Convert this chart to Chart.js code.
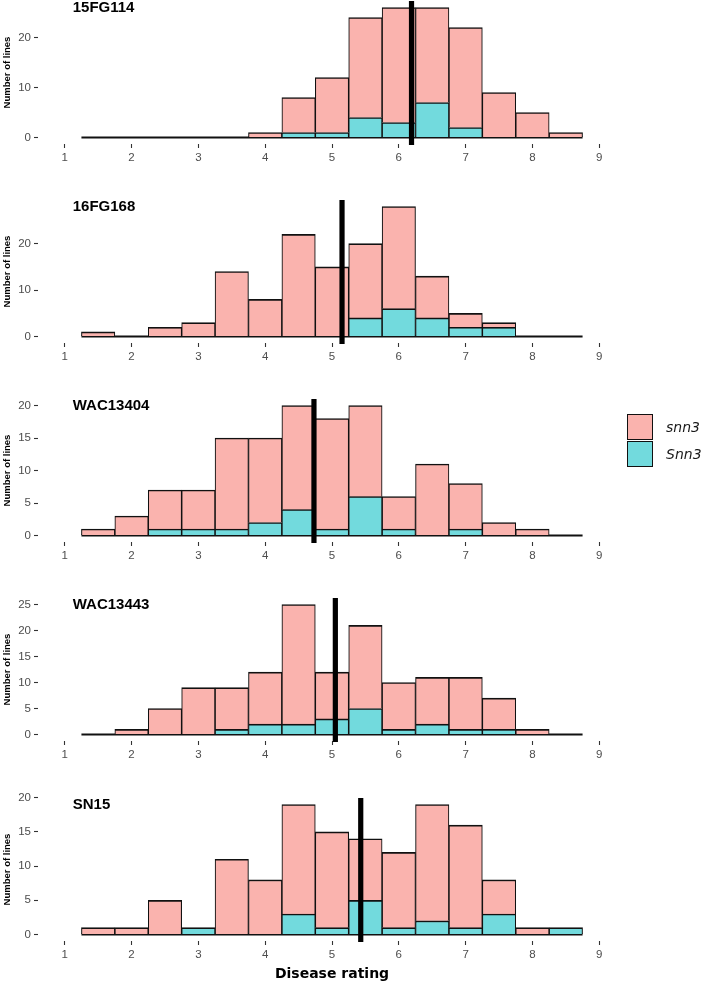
<!DOCTYPE html>
<html>
<head>
<meta charset="utf-8">
<script src="https://cdn.jsdelivr.net/npm/chart.js@4.4.1/dist/chart.umd.min.js"></script>
<style>
body { margin: 0; background: #fff; }
#wrap { position: relative; width: 708px; height: 985px; overflow: hidden; }
#wrap canvas { position: absolute; left: 0; }
#legend { position: absolute; left: 627px; top: 414px; font-family: "DejaVu Sans", sans-serif; font-style: italic; font-size: 14px; color: #1a1a1a; }
#legend .row { height: 26px; display: flex; align-items: center; margin-bottom: 1px; }
#legend .key { width: 24px; height: 24px; border: 1.3px solid #111; margin-right: 13px; }
</style>
</head>
<body>
<div id="wrap"><div id="legend"></div></div>
<script>
// bin centres (bin width 0.5) and axis ticks
var bins = [1.5, 2, 2.5, 3, 3.5, 4, 4.5, 5, 5.5, 6, 6.5, 7, 7.5, 8, 8.5];
var binWidth = 0.5;
var xTicks = [1, 2, 3, 4, 5, 6, 7, 8, 9];

var panelNames = ["15FG114", "16FG168", "WAC13404", "WAC13443", "SN15"];
var meanRating = [6.19, 5.15, 4.73, 5.05, 5.43];

var yTicks15FG114 = [0, 10, 20];
var yTicks16FG168 = [0, 10, 20];
var yTicksWAC13404 = [0, 5, 10, 15, 20];
var yTicksWAC13443 = [0, 5, 10, 15, 20, 25];
var yTicksSN15 = [0, 5, 10, 15, 20];

// counts per bin: snn3 (pink) and Snn3 (teal)
var snn3_15FG114 = [0, 0, 0, 0, 0, 1, 7, 11, 20, 23, 19, 20, 9, 5, 1];
var Snn3_15FG114 = [0, 0, 0, 0, 0, 0, 1, 1, 4, 3, 7, 2, 0, 0, 0];
var snn3_16FG168 = [1, 0, 2, 3, 14, 8, 22, 15, 16, 22, 9, 3, 1, 0, 0];
var Snn3_16FG168 = [0, 0, 0, 0, 0, 0, 0, 0, 4, 6, 4, 2, 2, 0, 0];
var snn3_WAC13404 = [1, 3, 6, 6, 14, 13, 16, 17, 14, 5, 11, 7, 2, 1, 0];
var Snn3_WAC13404 = [0, 0, 1, 1, 1, 2, 4, 1, 6, 1, 0, 1, 0, 0, 0];
var snn3_WAC13443 = [0, 1, 5, 9, 8, 10, 23, 9, 16, 9, 9, 10, 6, 1, 0];
var Snn3_WAC13443 = [0, 0, 0, 0, 1, 2, 2, 3, 5, 1, 2, 1, 1, 0, 0];
var snn3_SN15 = [1, 1, 5, 0, 11, 8, 16, 14, 9, 11, 17, 15, 5, 1, 0];
var Snn3_SN15 = [0, 0, 0, 1, 0, 0, 3, 1, 5, 1, 2, 1, 3, 0, 1];

var legendLabels = ["snn3", "Snn3"];
var legendColors = ["#FAB3AE", "#72DADD"];

var panelSnn3low = [snn3_15FG114, snn3_16FG168, snn3_WAC13404, snn3_WAC13443, snn3_SN15];
var panelSnn3 = [Snn3_15FG114, Snn3_16FG168, Snn3_WAC13404, Snn3_WAC13443, Snn3_SN15];
var panelYTicks = [yTicks15FG114, yTicks16FG168, yTicksWAC13404, yTicksWAC13443, yTicksSN15];

var tickFont = { family: "Liberation Sans", size: 11.5 };

// thick vertical line at the mean rating
var meanLinePlugin = {
    id: "meanLine",
    afterDatasetsDraw: function(chart, args, opts) {
        var ctx = chart.ctx;
        var a = chart.chartArea;
        var x = chart.scales.x.getPixelForValue(opts.value);
        ctx.save();
        ctx.fillStyle = "#000";
        ctx.fillRect(x - 2.6, a.top, 5.2, a.bottom - a.top + 1);
        ctx.restore();
    }
};

// isolate name written inside the panel
var panelTitlePlugin = {
    id: "panelTitle",
    afterDraw: function(chart, args, opts) {
        var ctx = chart.ctx;
        ctx.save();
        ctx.font = "bold 15px 'Liberation Sans'";
        ctx.fillStyle = "#000";
        ctx.textAlign = "left";
        ctx.textBaseline = "middle";
        ctx.fillText(opts.text, chart.scales.x.getPixelForValue(opts.x), chart.scales.y.getPixelForValue(opts.y));
        ctx.restore();
    }
};

function toPoints(values){
    return bins.map(function(b, i){
        return { x: b, y: values[i] == 0 ? null : values[i] };
    });
}

var wrap = document.getElementById("wrap");
var canvasTops = [1, 200, 399, 598, 798];
var plotHeight = 143;
var headroom = 10;

function drawPanel(k){
    var isLast = (k == panelNames.length - 1);
    var h = (isLast ? 985 - canvasTops[k] : 199) + headroom;
    var cv = document.createElement("canvas");
    cv.width = 708;
    cv.height = h;
    cv.style.top = (canvasTops[k] - headroom) + "px";
    wrap.insertBefore(cv, document.getElementById("legend"));

    var low = panelSnn3low[k], high = panelSnn3[k];
    var totals = low.map(function(v, i){ return v + high[i]; });
    var maxCount = Math.max.apply(null, totals);
    var yT = panelYTicks[k];
    var axisH = h - headroom - plotHeight;

    var barBorder = { top: 1.7, left: 1.1, right: 1.1, bottom: 0 };

    new Chart(cv, {
        data: {
            datasets: [
                {
                    type: "bar",
                    label: legendLabels[1],
                    data: toPoints(high),
                    backgroundColor: legendColors[1],
                    borderColor: "#111",
                    borderWidth: barBorder,
                    borderSkipped: false,
                    barPercentage: 1,
                    categoryPercentage: 1,
                    stack: "g"
                },
                {
                    type: "bar",
                    label: legendLabels[0],
                    data: toPoints(low),
                    backgroundColor: legendColors[0],
                    borderColor: "#111",
                    borderWidth: barBorder,
                    borderSkipped: false,
                    barPercentage: 1,
                    categoryPercentage: 1,
                    stack: "g"
                },
                {
                    type: "line",
                    label: "base",
                    data: [{ x: bins[0] - binWidth / 2, y: 0 }, { x: bins[bins.length - 1] + binWidth / 2, y: 0 }],
                    borderColor: "#111",
                    borderWidth: 1.8,
                    pointRadius: 0,
                    stack: "base"
                }
            ]
        },
        options: {
            responsive: false,
            animation: false,
            devicePixelRatio: 1,
            layout: { padding: { left: 0, right: 82, top: headroom, bottom: 0 } },
            plugins: {
                legend: { display: false },
                tooltip: { enabled: false },
                meanLine: { value: meanRating[k] },
                panelTitle: { text: panelNames[k], x: 1.12, y: maxCount }
            },
            scales: {
                x: {
                    type: "linear",
                    bounds: "data",
                    min: 0.6,
                    max: 9.4,
                    stacked: true,
                    offset: false,
                    border: { display: false },
                    grid: { drawOnChartArea: false, offset: false, tickLength: 4, tickColor: "#333", tickWidth: 1.1 },
                    ticks: { font: tickFont, color: "#4d4d4d", padding: 3, maxRotation: 0, autoSkip: false },
                    afterBuildTicks: function(s){ s.ticks = xTicks.map(function(v){ return { value: v }; }); },
                    afterFit: function(s){ s.height = axisH; s.paddingLeft = 0; s.paddingRight = 0; },
                    title: {
                        display: isLast,
                        text: "Disease rating",
                        color: "#000",
                        font: { family: "DejaVu Sans", weight: "bold", size: 14 },
                        padding: { top: 0, bottom: 2 }
                    }
                },
                y: {
                    stacked: true,
                    bounds: "data",
                    min: -0.05 * maxCount,
                    max: 1.05 * maxCount,
                    border: { display: false },
                    grid: { drawOnChartArea: false, tickLength: 4, tickColor: "#333", tickWidth: 1.1 },
                    ticks: { font: tickFont, color: "#4d4d4d", padding: 3 },
                    afterBuildTicks: function(s){ s.ticks = yT.map(function(v){ return { value: v }; }); },
                    afterFit: function(s){ s.width = 38; s.paddingTop = 0; s.paddingBottom = 0; },
                    title: {
                        display: true,
                        text: "Number of lines",
                        color: "#000",
                        font: { family: "Liberation Sans", weight: "bold", size: 9.5 },
                        padding: { top: 2, bottom: 0 }
                    }
                }
            }
        },
        plugins: [meanLinePlugin, panelTitlePlugin]
    });
}

for (var k = 0; k < panelNames.length; k++){
    drawPanel(k);
}

// shared legend at the right
var legendBox = document.getElementById("legend");
legendLabels.forEach(function(lab, i){
    var row = document.createElement("div");
    row.className = "row";
    var key = document.createElement("div");
    key.className = "key";
    key.style.background = legendColors[i];
    var txt = document.createElement("span");
    txt.textContent = lab;
    row.appendChild(key);
    row.appendChild(txt);
    legendBox.appendChild(row);
});
</script>
</body>
</html>
